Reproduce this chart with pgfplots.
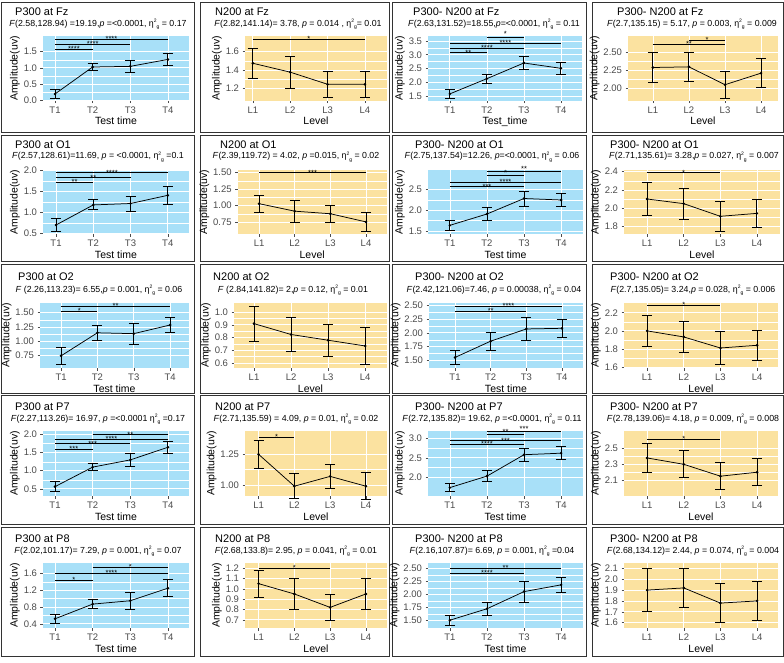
\documentclass[border=0pt]{standalone}
\usepackage{pgfplots}
\pgfplotsset{compat=1.18}
\usepackage{fontspec}
\setmainfont{Liberation Sans}
\definecolor{bgb}{RGB}{168,224,248}
\definecolor{bgy}{RGB}{251,226,160}
\pgfplotsset{
 pan/.style={scale only axis, anchor=north west, clip=false,
  axis line style={draw=none}, tick align=outside, major tick length=2.5pt,
  tick style={black!70, line width=0.5pt}, xtick pos=bottom, ytick pos=left,
  xtick={1,2,3,4}, xmajorgrids, ymajorgrids, yminorgrids, minor y tick num=1,
  minor tick length=0pt,
  major grid style={white, line width=0.7pt}, minor grid style={white, line width=0.35pt},
  ticklabel style={font=\fontsize{9.5}{10}\selectfont, text=black!70},
  label style={font=\fontsize{10.5}{11}\selectfont},
  ylabel={Amplitude(uv)}, ylabel style={yshift=-3pt}, xlabel style={yshift=3pt},
  yticklabel style={/pgf/number format/assume math mode=true}},
 bb/.style={axis background/.style={fill=bgb}},
 by/.style={axis background/.style={fill=bgy}},
 tt/.style={xticklabels={T1,T2,T3,T4}, xlabel={Test time}},
 ll/.style={xticklabels={L1,L2,L3,L4}, xlabel={Level}},
 d1/.style={yticklabel style={/pgf/number format/.cd, fixed, fixed zerofill, precision=1}},
 d2/.style={yticklabel style={/pgf/number format/.cd, fixed, fixed zerofill, precision=2}},
}
\newcommand{\frm}[4]{\draw[line width=0.8pt, black!80] (#1pt,-#2pt) rectangle (#3pt,-#4pt);}
\newcommand{\ttl}[3]{\node[anchor=base west, inner sep=0pt, font=\fontsize{11}{12}\selectfont] at (#1pt,-#2pt) {#3};}
\newcommand{\stt}[3]{\node[anchor=base, inner sep=0pt, font=\fontsize{8.8}{9}\selectfont] at (#1pt,-#2pt) {#3};}
\newcommand{\eg}{η\raisebox{3.6pt}{\fontsize{5}{5}\selectfont 2}\raisebox{-2.2pt}{\fontsize{5}{5}\selectfont g}}
\newcommand{\dat}[1]{\addplot[black, line width=0.75pt, mark=*, mark size=0.9pt,
  error bars/.cd, y dir=both, y explicit, error bar style={line width=0.9pt, solid},
  error mark options={rotate=90, mark size=5pt, line width=0.9pt}] coordinates {#1};}
\newcommand{\sig}[5]{\addplot[black, line width=0.55pt, forget plot] coordinates {(#1,#3) (#2,#3)};
  \node[font=\fontsize{7.5}{7.5}\selectfont, anchor=base, inner sep=0pt, yshift=-2.5pt] at (axis cs:#4,#3) {#5};}
\newcommand{\sigu}[5]{\addplot[black, line width=0.55pt, forget plot] coordinates {(#1,#3) (#2,#3)};
  \node[font=\fontsize{7.5}{7.5}\selectfont, anchor=base, inner sep=0pt, yshift=0pt] at (axis cs:#4,#3) {#5};}
\begin{document}
\begin{tikzpicture}
\fill[white] (0,0) rectangle (784pt,-663pt);
\path[use as bounding box] (0,0) rectangle (784pt,-663pt);
% ---------------- Row 1 ----------------
\frm{1}{2}{194}{132}\frm{200}{2}{389}{132}\frm{392}{2}{586}{132}\frm{592}{2}{783}{132}
\ttl{15}{16}{P300 at Fz}
\stt{98}{26.5}{\textit{F}(2.58,128.94) =19.19,\textit{p} =<0.0001, \eg\ = 0.17}
\ttl{215}{16}{N200 at Fz}
\stt{298}{26.5}{\textit{F}(2.82,141.14)= 3.78, \textit{p} = 0.014 , \eg= 0.01}
\ttl{413}{16}{P300- N200 at Fz}
\stt{494}{26.5}{\textit{F}(2.63,131.52)=18.55,\textit{p}=<0.0001, \eg\ = 0.11}
\ttl{617}{16}{P300- N200 at Fz}
\stt{692}{26.5}{\textit{F}(2.7,135.15) = 5.17, \textit{p} = 0.003, \eg\ = 0.009}

\begin{axis}[pan, bb, tt, d1, at={(43pt,-36.3pt)}, width=146pt, height=64.4pt,
  xmin=0.68, xmax=4.56, ymin=-0.02, ymax=1.977, ytick={0,0.5,1,1.5}]
\dat{(1,0.19) +- (0,0.14) (2,1.025) +- (0,0.114) (3,1.045) +- (0,0.197) (4,1.26) +- (0,0.186)}
\sig{1}{2}{1.573}{1.5}{****}
\sig{1}{3}{1.729}{2}{****}
\sig{1}{4}{1.884}{2.5}{****}
\end{axis}

\begin{axis}[pan, by, ll, d1, at={(245pt,-36.3pt)}, width=142pt, height=64.4pt,
  xmin=0.79, xmax=4.59, ymin=1.065, ymax=1.767, ytick={1.2,1.4,1.6}]
\dat{(1,1.473) +- (0,0.164) (2,1.376) +- (0,0.176) (3,1.244) +- (0,0.145) (4,1.244) +- (0,0.145)}
\sig{1}{4}{1.735}{2.5}{*}
\end{axis}

\begin{axis}[pan, bb, d1, xticklabels={T1,T2,T3,T4}, xlabel={Test\_time}, at={(428pt,-36.3pt)}, width=154pt, height=64.4pt,
  xmin=0.41, xmax=4.57, ymin=1.33, ymax=3.67, ytick={1.5,2,2.5,3,3.5}]
\dat{(1,1.578) +- (0,0.164) (2,2.13) +- (0,0.17) (3,2.70) +- (0,0.23) (4,2.506) +- (0,0.206)}
\sig{1}{2}{3.076}{1.5}{**}
\sig{1}{3}{3.233}{2}{****}
\sig{1}{4}{3.415}{2.5}{****}
\sigu{2}{3}{3.65}{2.5}{*}
\end{axis}

\begin{axis}[pan, by, ll, d2, at={(628pt,-36.3pt)}, width=150pt, height=64.4pt,
  xmin=0.31, xmax=4.47, ymin=1.827, ymax=2.729, ytick={2,2.25,2.5}]
\dat{(1,2.292) +- (0,0.213) (2,2.301) +- (0,0.199) (3,2.051) +- (0,0.192) (4,2.213) +- (0,0.199)}
\sig{1}{3}{2.617}{2}{**}
\sig{2}{3}{2.678}{2.5}{*}
\end{axis}

% ---------------- Row 2 ----------------
\frm{1}{135}{194}{261}\frm{200}{135}{389}{261}\frm{392}{135}{586}{261}\frm{592}{135}{783}{261}
\ttl{15}{148.5}{P300 at O1}
\stt{98}{159}{\textit{F}(2.57,128.61)=11.69, \textit{p} = <0.0001, \eg\ =0.1}
\ttl{220}{148.5}{N200 at O1}
\stt{296}{159}{\textit{F}(2.39,119.72) = 4.02, \textit{p} =0.015, \eg\ = 0.02}
\ttl{415}{148.5}{P300- N200 at O1}
\stt{492}{159}{\textit{F}(2.75,137.54)=12.26, \textit{p}=<0.0001, \eg\ = 0.06}
\ttl{610}{148.5}{P300- N200 at O1}
\stt{694}{159}{\textit{F}(2.71,135.61)= 3.28,\textit{p} = 0.027, \eg\ = 0.007}

\begin{axis}[pan, bb, tt, d1, at={(43pt,-170pt)}, width=146pt, height=64pt,
  xmin=0.65, xmax=4.57, ymin=0.484, ymax=2.016, ytick={0.5,1,1.5,2}]
\dat{(1,0.70) +- (0,0.16) (2,1.18) +- (0,0.12) (3,1.214) +- (0,0.18) (4,1.41) +- (0,0.21)}
\sig{1}{2}{1.721}{1.5}{**}
\sig{1}{3}{1.833}{2}{**}
\sig{1}{4}{1.952}{2.5}{****}
\end{axis}

\begin{axis}[pan, by, ll, d2, at={(237.7pt,-170pt)}, width=149pt, height=64pt,
  xmin=0.40, xmax=4.58, ymin=0.568, ymax=1.541, ytick={0.75,1,1.25,1.5}]
\dat{(1,1.029) +- (0,0.127) (2,0.915) +- (0,0.17) (3,0.876) +- (0,0.132) (4,0.752) +- (0,0.139)}
\sig{1}{4}{1.5}{2.5}{***}
\end{axis}

\begin{axis}[pan, bb, tt, d1, at={(428pt,-170pt)}, width=155pt, height=64pt,
  xmin=0.41, xmax=4.59, ymin=1.428, ymax=2.964, ytick={1.5,2,2.5}]
\dat{(1,1.636) +- (0,0.128) (2,1.908) +- (0,0.16) (3,2.28) +- (0,0.18) (4,2.244) +- (0,0.16)}
\sig{1}{3}{2.564}{2}{***}
\sig{1}{4}{2.676}{2.5}{****}
\sigu{2}{3}{2.83}{2.5}{*}
\sigu{2}{4}{2.93}{3}{**}
\end{axis}

\begin{axis}[pan, by, ll, d1, at={(624pt,-170pt)}, width=156pt, height=64pt,
  xmin=0.37, xmax=4.63, ymin=1.72, ymax=2.418, ytick={1.8,2,2.2,2.4}]
\dat{(1,2.102) +- (0,0.182) (2,2.051) +- (0,0.167) (3,1.913) +- (0,0.167) (4,1.945) +- (0,0.156)}
\sig{1}{3}{2.389}{2}{*}
\end{axis}

% ---------------- Row 3 ----------------
\frm{1}{264}{194}{393}\frm{200}{264}{389}{393}\frm{392}{264}{586}{393}\frm{592}{264}{783}{393}
\ttl{18}{280}{P300 at O2}
\stt{99}{292}{\textit{F} (2.26,113.23)= 6.55,\textit{p} = 0.001, \eg\ = 0.06}
\ttl{213}{280}{N200 at O2}
\stt{293}{292}{\textit{F} (2.84,141.82)= 2,\textit{p} = 0.12, \eg\ = 0.01}
\ttl{415}{280}{P300- N200 at O2}
\stt{494}{292}{\textit{F}(2.42,121.06)=7.46, \textit{p} = 0.00038, \eg\ = 0.04}
\ttl{610}{280}{P300- N200 at O2}
\stt{693}{292}{\textit{F}(2.7,135.05)= 3.24,\textit{p} = 0.028, \eg\ = 0.006}

\begin{axis}[pan, bb, tt, d2, at={(40pt,-303pt)}, width=149pt, height=65pt,
  xmin=0.42, xmax=4.52, ymin=0.527, ymax=1.67, ytick={0.75,1,1.25,1.5}]
\dat{(1,0.741) +- (0,0.155) (2,1.146) +- (0,0.132) (3,1.131) +- (0,0.187) (4,1.283) +- (0,0.135)}
\sig{1}{2}{1.523}{1.5}{*}
\sig{1}{4}{1.611}{2.5}{**}
\end{axis}

\begin{axis}[pan, by, ll, d1, at={(234pt,-303pt)}, width=153pt, height=65pt,
  xmin=0.46, xmax=4.59, ymin=0.561, ymax=1.071, ytick={0.6,0.7,0.8,0.9,1.0}]
\dat{(1,0.909) +- (0,0.136) (2,0.824) +- (0,0.137) (3,0.779) +- (0,0.127) (4,0.734) +- (0,0.146)}
\end{axis}

\begin{axis}[pan, bb, tt, d2, at={(429pt,-303pt)}, width=154pt, height=65pt,
  xmin=0.27, xmax=4.59, ymin=1.36, ymax=2.542, ytick={1.5,1.75,2,2.25,2.5}]
\dat{(1,1.552) +- (0,0.13) (2,1.848) +- (0,0.167) (3,2.07) +- (0,0.206) (4,2.082) +- (0,0.158)}
\sig{1}{3}{2.391}{2}{**}
\sig{1}{4}{2.488}{2.5}{****}
\end{axis}

\begin{axis}[pan, by, ll, d1, at={(624pt,-303pt)}, width=154pt, height=65pt,
  xmin=0.37, xmax=4.57, ymin=1.589, ymax=2.307, ytick={1.6,1.8,2,2.2}]
\dat{(1,1.999) +- (0,0.171) (2,1.932) +- (0,0.166) (3,1.81) +- (0,0.184) (4,1.84) +- (0,0.166)}
\sig{1}{3}{2.281}{2}{*}
\end{axis}

% ---------------- Row 4 ----------------
\frm{1}{395}{194}{524}\frm{200}{395}{389}{524}\frm{392}{395}{586}{524}\frm{592}{395}{783}{524}
\ttl{15}{410}{P300 at P7}
\stt{98}{421}{\textit{F}(2.27,113.26)= 16.97, \textit{p} =<0.0001 \eg\ =0.17}
\ttl{215}{410}{N200 at P7}
\stt{296}{421}{\textit{F}(2.71,135.59) = 4.09, \textit{p} = 0.01, \eg\ = 0.02}
\ttl{415}{410}{P300- N200 at P7}
\stt{492}{421}{\textit{F}(2.72,135.82)= 19.62, \textit{p} =<0.0001, \eg\ = 0.11}
\ttl{610}{410}{P300- N200 at P7}
\stt{693}{421}{\textit{F}(2.78,139.06)= 4.18, \textit{p} = 0.009, \eg\ = 0.008}

\begin{axis}[pan, bb, tt, d1, at={(43pt,-431pt)}, width=146pt, height=65pt,
  xmin=0.68, xmax=4.56, ymin=0.3, ymax=2.1, ytick={0.5,1,1.5,2}]
\dat{(1,0.56) +- (0,0.13) (2,1.1) +- (0,0.1) (3,1.3) +- (0,0.17) (4,1.65) +- (0,0.16)}
\sig{1}{2}{1.6}{1.5}{***}
\sig{1}{3}{1.75}{2}{***}
\sig{1}{4}{1.88}{2.5}{****}
\sig{2}{4}{2.0}{3}{**}
\end{axis}

\begin{axis}[pan, by, ll, d2, at={(245pt,-431pt)}, width=142pt, height=65pt,
  xmin=0.62, xmax=4.59, ymin=0.91, ymax=1.44, ytick={1,1.25}]
\dat{(1,1.25) +- (0,0.115) (2,0.99) +- (0,0.1) (3,1.07) +- (0,0.1) (4,0.99) +- (0,0.11)}
\sig{1}{2}{1.39}{1.5}{*}
\end{axis}

\begin{axis}[pan, bb, tt, d1, at={(428pt,-431pt)}, width=155pt, height=65pt,
  xmin=0.41, xmax=4.59, ymin=1.5, ymax=3.2, ytick={2,2.5,3}]
\dat{(1,1.72) +- (0,0.1) (2,2.02) +- (0,0.14) (3,2.58) +- (0,0.17) (4,2.62) +- (0,0.17)}
\sig{1}{3}{2.85}{2}{****}
\sig{1}{4}{2.95}{2.5}{***}
\sigu{2}{3}{3.12}{2.5}{**}
\sigu{2}{4}{3.185}{3}{***}
\end{axis}

\begin{axis}[pan, by, ll, d1, at={(624pt,-431pt)}, width=154pt, height=65pt,
  xmin=0.37, xmax=4.57, ymin=1.9, ymax=2.72, ytick={2.1,2.3,2.5}]
\dat{(1,2.38) +- (0,0.18) (2,2.3) +- (0,0.17) (3,2.15) +- (0,0.17) (4,2.2) +- (0,0.17)}
\sig{1}{3}{2.62}{2}{*}
\end{axis}

% ---------------- Row 5 ----------------
\frm{1}{527}{194}{656}\frm{200}{527}{389}{656}\frm{392}{527}{586}{656}\frm{592}{527}{783}{656}
\ttl{15}{542}{P300 at P8}
\stt{98}{553}{\textit{F}(2.02,101.17)= 7.29, \textit{p} = 0.001, \eg\ = 0.07}
\ttl{215}{542}{N200 at P8}
\stt{296}{553}{\textit{F}(2.68,133.8)= 2.95, \textit{p} = 0.041, \eg\ = 0.01}
\ttl{415}{542}{P300- N200 at P8}
\stt{492}{553}{\textit{F}(2.16,107.87)= 6.69, \textit{p} = 0.001, \eg\ =0.04}
\ttl{610}{542}{P300- N200 at P8}
\stt{693}{553}{\textit{F}(2.68,134.12)= 2.44, \textit{p} = 0.074, \eg\ = 0.004}

\begin{axis}[pan, bb, tt, d1, at={(43pt,-563pt)}, width=146pt, height=65pt,
  xmin=0.68, xmax=4.56, ymin=0.3, ymax=1.85, ytick={0.4,0.8,1.2,1.6}]
\dat{(1,0.52) +- (0,0.1) (2,0.87) +- (0,0.11) (3,0.95) +- (0,0.2) (4,1.25) +- (0,0.2)}
\sig{1}{2}{1.45}{1.5}{*}
\sig{1}{4}{1.6}{2.5}{****}
\sig{2}{4}{1.75}{3}{*}
\end{axis}

\begin{axis}[pan, by, ll, d1, at={(245pt,-563pt)}, width=142pt, height=65pt,
  xmin=0.62, xmax=4.59, ymin=0.62, ymax=1.25, ytick={0.7,0.8,0.9,1.0,1.1,1.2}, minor y tick num=0]
\dat{(1,1.05) +- (0,0.13) (2,0.95) +- (0,0.15) (3,0.82) +- (0,0.13) (4,0.95) +- (0,0.15)}
\sig{1}{3}{1.2}{2}{*}
\end{axis}

\begin{axis}[pan, bb, tt, d2, at={(428pt,-563pt)}, width=155pt, height=65pt,
  xmin=0.41, xmax=4.59, ymin=1.35, ymax=2.6, ytick={1.5,1.75,2,2.25,2.5}]
\dat{(1,1.5) +- (0,0.1) (2,1.72) +- (0,0.12) (3,2.05) +- (0,0.2) (4,2.18) +- (0,0.15)}
\sig{1}{3}{2.4}{2}{****}
\sig{1}{4}{2.5}{2.5}{**}
\end{axis}

\begin{axis}[pan, by, ll, d1, at={(624pt,-563pt)}, width=154pt, height=65pt,
  xmin=0.37, xmax=4.57, ymin=1.55, ymax=2.15, ytick={1.6,1.7,1.8,1.9,2.0,2.1}, minor y tick num=0]
\dat{(1,1.9) +- (0,0.2) (2,1.92) +- (0,0.18) (3,1.78) +- (0,0.18) (4,1.8) +- (0,0.18)}
\end{axis}
\end{tikzpicture}
\end{document}
